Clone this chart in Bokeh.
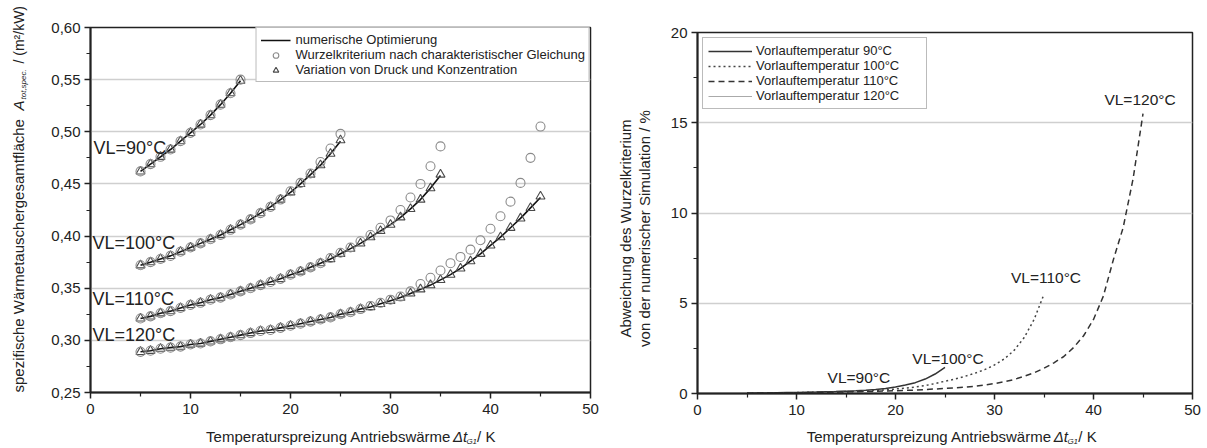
from math import pi
from bokeh.plotting import figure
from bokeh.layouts import row, column
from bokeh.models import (Range1d, FixedTicker, CustomJSTickFormatter,
                          Legend, LegendItem, Label)
from bokeh.embed import file_html
from bokeh.resources import INLINE

FONT = "Liberation Sans"
INK = "#222222"

# ---------------- tick values ----------------
x_ticks = [0, 10, 20, 30, 40, 50]
x_minor = [5, 15, 25, 35, 45]
left_y_ticks = [0.25, 0.30, 0.35, 0.40, 0.45, 0.50, 0.55, 0.60]
left_y_minor = [0.275, 0.325, 0.375, 0.425, 0.475, 0.525, 0.575]
right_y_ticks = [0, 5, 10, 15, 20]
right_y_minor = [2.5, 7.5, 12.5, 17.5]

# ---------------- data: left chart (A_tot,spec in m²/kW) ----------------
dt_90 = list(range(5, 16))
opt_90 = [0.462, 0.469, 0.476, 0.483, 0.491, 0.499, 0.507, 0.516, 0.526, 0.537, 0.549]
var_90 = [0.462, 0.469, 0.476, 0.483, 0.491, 0.499, 0.507, 0.516, 0.526, 0.537, 0.549]
wur_90 = [0.462, 0.469, 0.476, 0.483, 0.491, 0.499, 0.507, 0.516, 0.526, 0.537, 0.550]

dt_100 = list(range(5, 26))
opt_100 = [0.372, 0.375, 0.378, 0.381, 0.385, 0.389, 0.393, 0.397, 0.401, 0.406, 0.411,
           0.416, 0.422, 0.428, 0.435, 0.442, 0.450, 0.459, 0.468, 0.479, 0.491]
var_100 = [0.372, 0.375, 0.378, 0.381, 0.385, 0.389, 0.393, 0.397, 0.401, 0.406, 0.411,
           0.416, 0.422, 0.428, 0.435, 0.442, 0.450, 0.459, 0.468, 0.479, 0.492]
wur_100 = [0.372, 0.375, 0.378, 0.381, 0.385, 0.389, 0.393, 0.397, 0.401, 0.406, 0.411,
           0.416, 0.422, 0.428, 0.435, 0.443, 0.451, 0.460, 0.471, 0.484, 0.498]

dt_110 = list(range(5, 36))
opt_110 = [0.321, 0.323, 0.326, 0.328, 0.331, 0.334, 0.336, 0.339, 0.341, 0.344, 0.347,
           0.350, 0.353, 0.356, 0.359, 0.363, 0.366, 0.370, 0.374, 0.378, 0.383,
           0.388, 0.393, 0.399, 0.405, 0.411, 0.418, 0.426, 0.435, 0.446, 0.458]
var_110 = [0.321, 0.323, 0.326, 0.328, 0.331, 0.334, 0.336, 0.339, 0.341, 0.344, 0.347,
           0.350, 0.353, 0.356, 0.359, 0.363, 0.366, 0.370, 0.374, 0.378, 0.383,
           0.388, 0.393, 0.399, 0.405, 0.411, 0.418, 0.426, 0.435, 0.446, 0.459]
wur_110 = [0.321, 0.323, 0.326, 0.328, 0.331, 0.334, 0.336, 0.339, 0.341, 0.344, 0.347,
           0.350, 0.353, 0.356, 0.359, 0.363, 0.366, 0.370, 0.374, 0.379, 0.384,
           0.389, 0.395, 0.401, 0.408, 0.415, 0.425, 0.437, 0.450, 0.467, 0.486]

dt_120 = list(range(5, 46))
opt_120 = [0.289, 0.290, 0.292, 0.293, 0.294, 0.296, 0.297, 0.299, 0.301, 0.303, 0.305,
           0.307, 0.309, 0.310, 0.312, 0.314, 0.316, 0.318, 0.320, 0.322, 0.325,
           0.327, 0.330, 0.332, 0.335, 0.338, 0.341, 0.345, 0.349, 0.353, 0.358,
           0.363, 0.369, 0.376, 0.383, 0.391, 0.399, 0.408, 0.417, 0.427, 0.437]
var_120 = [0.289, 0.290, 0.292, 0.293, 0.294, 0.296, 0.297, 0.299, 0.301, 0.303, 0.305,
           0.307, 0.309, 0.310, 0.312, 0.314, 0.316, 0.318, 0.320, 0.322, 0.325,
           0.327, 0.330, 0.332, 0.335, 0.338, 0.341, 0.345, 0.349, 0.353, 0.358,
           0.363, 0.369, 0.376, 0.383, 0.391, 0.399, 0.408, 0.417, 0.427, 0.438]
wur_120 = [0.289, 0.290, 0.292, 0.293, 0.294, 0.296, 0.297, 0.299, 0.301, 0.303, 0.305,
           0.307, 0.309, 0.310, 0.312, 0.314, 0.316, 0.318, 0.320, 0.322, 0.325,
           0.327, 0.330, 0.333, 0.336, 0.339, 0.342, 0.347, 0.354, 0.360, 0.367,
           0.374, 0.380, 0.387, 0.396, 0.407, 0.419, 0.433, 0.451, 0.475, 0.505]

# ---------------- data: right chart (deviation in %) ----------------
dev_90 = [0.02, 0.02, 0.03, 0.03, 0.04, 0.05, 0.06, 0.08, 0.10, 0.12, 0.15]
dev_100 = [0.02, 0.03, 0.03, 0.04, 0.05, 0.06, 0.07, 0.08, 0.10, 0.11, 0.13,
           0.15, 0.18, 0.22, 0.28, 0.36, 0.47, 0.60, 0.80, 1.08, 1.45]
dev_110 = [0.02, 0.02, 0.03, 0.03, 0.04, 0.05, 0.06, 0.07, 0.08, 0.09, 0.10,
           0.12, 0.14, 0.17, 0.20, 0.25, 0.30, 0.36, 0.44, 0.55, 0.68,
           0.80, 0.95, 1.12, 1.32, 1.58, 1.92, 2.40, 3.10, 4.10, 5.50]
dev_120 = [0.02, 0.02, 0.03, 0.03, 0.04, 0.04, 0.05, 0.06, 0.07, 0.08,
           0.09, 0.10, 0.11, 0.12, 0.14, 0.15, 0.17, 0.19, 0.22, 0.25,
           0.28, 0.31, 0.35, 0.40, 0.47, 0.55, 0.65, 0.78, 0.95, 1.15, 1.40,
           1.70, 2.05, 2.55, 3.20, 4.10, 5.40, 7.40, 9.20, 11.90, 15.50]

left_legend_labels = ["numerische Optimierung",
                      "Wurzelkriterium nach charakteristischer Gleichung",
                      "Variation von Druck und Konzentration"]
right_legend_labels = ["Vorlauftemperatur 90°C", "Vorlauftemperatur 100°C",
                       "Vorlauftemperatur 110°C", "Vorlauftemperatur 120°C"]
series_labels = ["VL=90°C", "VL=100°C", "VL=110°C", "VL=120°C"]
x_title = "Temperaturspreizung Antriebswärme"
x_title_sym = "Δt"
x_title_sub = "G1"
x_title_unit = "/ K"
left_y_title = "spezifische Wärmetauschergesamtfläche"
left_y_sym = "A"
left_y_sub = "tot,spec."
left_y_unit = "/ (m²/kW)"
right_y_title = ["Abweichung des Wurzelkriterium", "von der numerischer Simulation / %"]


def style(p):
    for ax in (p.xaxis, p.yaxis):
        ax.axis_line_width = 2
        ax.axis_line_color = INK
        ax.major_tick_line_color = INK
        ax.minor_tick_line_color = INK
        ax.major_tick_line_width = 1.5
        ax.minor_tick_line_width = 1.2
        ax.major_tick_out = 6
        ax.major_tick_in = 0
        ax.minor_tick_out = 4
        ax.minor_tick_in = 0
        ax.major_label_text_font = FONT
        ax.major_label_text_font_size = "15px"
        ax.major_label_text_color = INK
    p.xaxis.major_label_standoff = 5
    p.yaxis.major_label_standoff = 4
    p.outline_line_color = INK
    p.outline_line_width = 1.5
    p.xgrid.visible = False
    p.ygrid.grid_line_color = "#cfcfcf"
    p.ygrid.grid_line_width = 1.3
    p.background_fill_color = "white"
    p.border_fill_color = "white"


def lab(p, x, y, text, size="15px", align="left", baseline="middle",
        angle=0.0, style_="normal"):
    p.add_layout(Label(x=x, y=y, text=text, text_font=FONT, text_font_size=size,
                       text_color=INK, text_align=align, text_baseline=baseline,
                       angle=angle, text_font_style=style_))


def blank(w, h):
    f = figure(width=w, height=h, x_range=Range1d(0, w), y_range=Range1d(0, h),
               x_axis_type=None, y_axis_type=None, output_backend="svg",
               toolbar_location=None, min_border=0)
    f.grid.visible = False
    f.outline_line_color = None
    f.background_fill_color = "white"
    f.border_fill_color = "white"
    return f


def legend_style(**kw):
    base = dict(spacing=0, label_text_font=FONT, label_text_font_size="13px",
                label_text_color=INK, label_height=14, glyph_height=14,
                border_line_color="#777777", border_line_width=1.2,
                background_fill_color="white", background_fill_alpha=1.0)
    base.update(kw)
    return base


# ---------------- left figure ----------------
p1 = figure(frame_width=500, frame_height=365, x_range=Range1d(0, 50),
            y_range=Range1d(0.25, 0.60), output_backend="svg", toolbar_location=None,
            min_border_left=50, min_border_right=10, min_border_top=27,
            min_border_bottom=30)
style(p1)
p1.xaxis.ticker = FixedTicker(ticks=x_ticks, minor_ticks=x_minor)
p1.yaxis.ticker = FixedTicker(ticks=left_y_ticks, minor_ticks=left_y_minor)
p1.yaxis.formatter = CustomJSTickFormatter(code="return tick.toFixed(2).replace('.', ',');")

line_rs, tri_rs, circ_rs = [], [], []
for xs, o, v, w in [(dt_90, opt_90, var_90, wur_90), (dt_100, opt_100, var_100, wur_100),
                    (dt_110, opt_110, var_110, wur_110), (dt_120, opt_120, var_120, wur_120)]:
    line_rs.append(p1.line(xs, o, line_color="#111111", line_width=1.6))
    tri_rs.append(p1.scatter(xs, v, marker="triangle", size=9, line_color="#4a4a4a",
                             line_width=1.1, fill_alpha=0))
    circ_rs.append(p1.scatter(xs, w, marker="circle", size=9, line_color="#8a8a8a",
                              line_width=1.1, fill_alpha=0))

leg1 = Legend(items=[LegendItem(label=left_legend_labels[0], renderers=[line_rs[0]]),
                     LegendItem(label=left_legend_labels[1], renderers=[circ_rs[0]]),
                     LegendItem(label=left_legend_labels[2], renderers=[tri_rs[0]])],
              **legend_style(location="top_right", margin=0, padding=4,
                             glyph_width=30, label_standoff=5))
p1.add_layout(leg1)

lab(p1, 0.3, 0.484, series_labels[0], size="18px")
lab(p1, 0.2, 0.393, series_labels[1], size="18px")
lab(p1, 0.2, 0.340, series_labels[2], size="18px")
lab(p1, 0.2, 0.305, series_labels[3], size="18px")

# ---------------- right figure ----------------
p2 = figure(frame_width=495, frame_height=361, x_range=Range1d(0, 50),
            y_range=Range1d(0, 20), output_backend="svg", toolbar_location=None,
            min_border_left=37, min_border_right=10, min_border_top=32,
            min_border_bottom=29)
style(p2)
p2.xaxis.ticker = FixedTicker(ticks=x_ticks, minor_ticks=x_minor)
p2.yaxis.ticker = FixedTicker(ticks=right_y_ticks, minor_ticks=right_y_minor)

r90 = p2.line(dt_90, dev_90, line_color="#aaaaaa", line_width=1.0)
r100 = p2.line(dt_100, dev_100, line_color="#333333", line_width=1.5)
r110 = p2.line(dt_110, dev_110, line_color="#444444", line_width=1.5, line_dash="2 3")
r120 = p2.line(dt_120, dev_120, line_color="#333333", line_width=1.5, line_dash="6 4")

leg2 = Legend(items=[LegendItem(label=right_legend_labels[0], renderers=[r100]),
                     LegendItem(label=right_legend_labels[1], renderers=[r110]),
                     LegendItem(label=right_legend_labels[2], renderers=[r120]),
                     LegendItem(label=right_legend_labels[3], renderers=[r90])],
              **legend_style(location="top_left", margin=5, padding=5,
                             glyph_width=44, label_standoff=4, label_width=165))
p2.add_layout(leg2)

lab(p2, 16.3, 0.9, series_labels[0], size="15.5px", align="center")
lab(p2, 25.3, 1.95, series_labels[1], size="15.5px", align="center")
lab(p2, 35.2, 6.4, series_labels[2], size="15.5px", align="center")
lab(p2, 44.7, 16.3, series_labels[3], size="15.5px", align="center")

# ---------------- axis titles (drawn in small blank panels) ----------------
ylab1 = blank(40, 446)
lab(ylab1, 18, 54, left_y_title, angle=pi / 2)
lab(ylab1, 18, 336, left_y_sym, angle=pi / 2, style_="italic")
lab(ylab1, 23, 347, left_y_sub, size="8px", angle=pi / 2, style_="italic")
lab(ylab1, 18, 383, left_y_unit, size="14px", angle=pi / 2)

xlab1 = blank(560, 24)
lab(xlab1, 404, 10, x_title, align="right")
lab(xlab1, 406, 10, x_title_sym, style_="italic")
lab(xlab1, 421, 5, x_title_sub, size="8px", style_="italic")
lab(xlab1, 433, 10, x_title_unit)

ylab2 = blank(60, 446)
lab(ylab2, 25, 218, right_y_title[0], align="center", angle=pi / 2)
lab(ylab2, 44, 218, right_y_title[1], align="center", angle=pi / 2)

xlab2 = blank(542, 24)
lab(xlab2, 388, 10, x_title, align="right")
lab(xlab2, 390, 10, x_title_sym, style_="italic")
lab(xlab2, 405, 5, x_title_sub, size="8px", style_="italic")
lab(xlab2, 417, 10, x_title_unit)

layout = row(ylab1, column(p1, xlab1), ylab2, column(p2, xlab2))
open("out.html", "w").write(file_html(layout, INLINE))
